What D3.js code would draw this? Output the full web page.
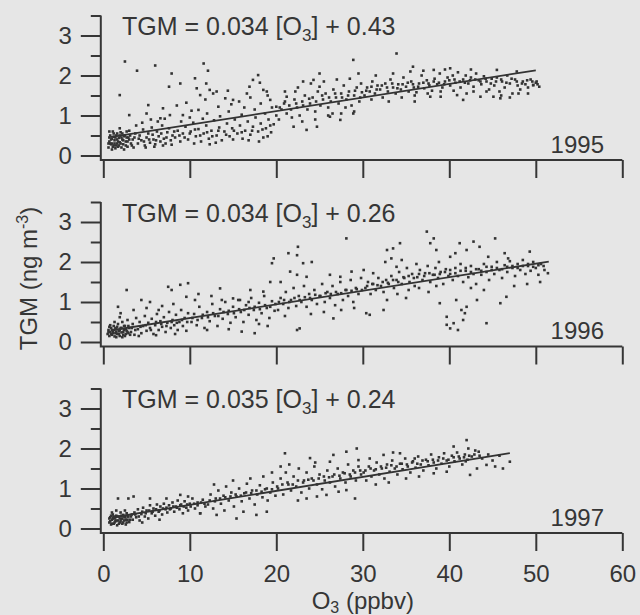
<!DOCTYPE html>
<html lang="en">
<head>
<meta charset="utf-8">
<script src="https://d3js.org/d3.v7.min.js"></script>
<title>TGM vs O3</title>
<style>
  body { margin: 0; background: #e6e6e6; }
  text { font-family: "Liberation Sans", Arial, Helvetica, sans-serif; fill: #363636; }
</style>
</head>
<body>
<script>

var years = ["1995", "1996", "1997"];
var fitSlope = [0.034, 0.034, 0.035];
var fitIntercept = [0.43, 0.26, 0.24];
var fitRange = [[0.8, 50], [1, 51.5], [1, 47]];
var xTicks = [0, 10, 20, 30, 40, 50, 60];
var yMajor = [0, 1, 2, 3];
var yMinor = [0.5, 1.5, 2.5, 3.5];

// [O3 ppbv, TGM ng m-3]
var pts1995 = [
  [0.6,0.2],[0.7,0.35],[0.8,0.5],[0.9,0.28],[1.0,0.15],[1.0,0.42],[1.1,0.6],[1.2,0.25],[1.3,0.38],[1.4,0.18],
  [1.5,0.5],[1.6,0.3],[1.7,0.22],[1.8,0.44],[1.9,0.33],[2.0,0.58],[2.1,0.2],[2.2,0.4],[2.3,0.28],[2.5,0.5],
  [2.6,0.35],[2.8,0.22],[2.9,0.45],[3.0,0.62],[3.2,0.3],[3.4,0.4],[3.5,0.2],[3.7,0.55],[0.8,0.3],[1.2,0.47],
  [1.6,0.4],[2.4,0.15],[2.7,0.6],[1.9,0.68],[0.7,0.6],
  [0.6,0.3],[0.7,0.45],[0.9,0.4],[1.0,0.3],[1.1,0.22],[1.2,0.55],[1.3,0.3],[1.4,0.45],[1.5,0.25],[1.6,0.55],
  [1.7,0.35],[1.8,0.25],[1.9,0.5],[2.0,0.3],[2.1,0.45],[2.2,0.55],[2.3,0.38],[2.4,0.48],[2.6,0.25],[2.7,0.45],
  [2.8,0.35],[3.0,0.4],[3.1,0.5],[3.3,0.25],[3.6,0.45],
  [4.0,0.3],[4.2,0.5],[4.4,0.38],[4.6,0.65],[4.8,0.25],[5.0,0.45],[5.2,0.55],[5.4,0.32],[5.6,0.7],[5.8,0.4],
  [6.0,0.28],[6.2,0.6],[6.4,0.48],[6.6,0.35],[6.8,0.75],[7.0,0.42],[7.2,0.3],[7.4,0.58],[7.6,0.68],[7.8,0.38],
  [8.0,0.5],[4.5,0.82],[5.5,0.9],[6.3,0.85],[7.1,0.92],[3.8,0.75],[4.9,0.2],[5.9,0.22],[6.9,0.25],[7.9,0.27],
  [4.1,0.42],[4.7,0.35],[5.3,0.4],[5.7,0.52],[6.1,0.38],[6.7,0.55],[7.3,0.45],[8.2,0.6],[8.8,0.5],[9.4,0.45],
  [10.0,0.55],[10.6,0.65],[11.2,0.5],[12.0,0.58],[12.6,0.48],[13.3,0.62],[14.2,0.52],[15.1,0.62],[16.0,0.58],[17.2,0.62],
  [18.4,0.65],[19.3,0.75],
  [8.3,0.45],[8.6,0.62],[8.9,0.35],[9.2,0.55],[9.5,0.72],[9.8,0.4],[10.1,0.6],[10.4,0.82],[10.7,0.48],[11.0,0.66],
  [11.3,0.35],[11.6,0.55],[11.9,0.75],[12.2,0.42],[12.5,0.62],[12.8,0.88],[13.1,0.5],[13.4,0.7],[13.7,0.38],[14.0,0.6],
  [14.3,0.8],[14.6,0.48],[14.9,0.68],[15.2,0.9],[15.5,0.55],[15.8,0.75],[16.1,0.42],[16.4,0.62],[16.7,0.85],[17.0,0.52],
  [17.3,0.72],[17.6,0.95],[17.9,0.6],[18.2,0.8],[18.5,0.45],[18.8,0.68],[19.1,0.9],[19.4,0.58],[19.7,0.78],[20.0,1.0],
  [9.0,0.85],[10.0,0.95],[11.5,0.92],[12.0,1.05],[13.5,0.98],[14.5,1.1],[16.0,1.02],[17.5,1.15],[18.7,1.05],[19.5,1.2],
  [13.0,0.32],[15.0,0.4],[16.8,0.38],[18.0,0.35],[19.0,0.48],[10.5,0.3],[12.3,0.28],
  [8.5,1.25],[9.6,1.32],[10.2,1.12],[11.8,1.4],[13.3,1.22],[14.8,1.28],[15.7,1.35],[16.3,1.2],[17.0,1.45],[18.2,1.3],
  [19.0,1.5],[12.7,1.55],[14.4,1.62],[16.9,1.72],[18.1,1.82],
  [2.5,2.35],[3.9,2.12],[6.0,2.25],[1.9,1.51],[11.6,2.3],[12.1,2.12],[7.9,2.05],[7.6,1.72],[8.9,1.8],[10.6,1.93],
  [10.8,1.68],[11.2,1.51],[11.9,1.8],[12.3,1.64],[13.1,1.6],[14.1,1.43],[15.0,1.39],[16.6,1.55],[17.3,1.89],[17.9,2.01],
  [18.5,1.64],[18.9,1.6],[5.2,1.26],[6.9,1.18],[7.7,1.01],[6.6,0.93],[11.0,1.14],[9.2,1.01],[3.0,1.01],[5.0,1.05],
  [20.3,0.9],[20.6,1.15],[20.9,1.3],[21.2,1.05],[21.5,1.25],[21.8,0.95],[22.1,1.4],[22.4,1.2],[22.7,1.0],[23.0,1.35],
  [23.3,1.5],[23.6,1.15],[23.9,1.3],[24.2,1.45],[24.5,1.1],[24.8,1.6],[25.1,1.25],[25.4,1.4],[25.7,1.55],[26.0,1.2],
  [26.3,1.35],[26.6,1.65],[26.9,1.45],[27.2,1.3],[27.5,1.55],[27.8,1.75],[28.1,1.4],[28.4,1.6],[28.7,1.25],[29.0,1.5],
  [29.3,1.7],[29.6,1.35],[29.9,1.58],[21.0,1.6],[22.5,1.7],[24.0,1.8],[25.5,1.85],[27.0,1.9],[28.5,1.92],[29.8,1.8],
  [23.0,0.85],[24.5,0.9],[26.0,1.0],[27.5,1.05],[29.0,1.1],[25.0,1.72],[26.5,1.05],[28.0,1.2],
  [20.4,1.2],[21.0,1.35],[21.7,1.15],[22.3,1.3],[23.1,1.25],[23.8,1.42],[24.6,1.35],[25.3,1.5],[26.1,1.45],[26.8,1.55],
  [27.6,1.45],[28.3,1.5],[29.1,1.62],[29.7,1.45],
  [25.0,2.05],[28.9,2.39],[33.9,2.55],[35.8,2.22],[29.5,2.05],[23.1,1.85],[24.3,1.89],[22.2,1.6],[21.2,1.47],[19.3,1.39],
  [20.0,1.22],[23.5,0.64],[24.7,0.72],[26.2,0.97],[27.4,0.89],[28.9,1.05],[22.0,0.72],
  [30.2,1.5],[30.5,1.7],[30.8,1.6],[31.1,1.85],[31.4,1.55],[31.7,1.75],[32.0,1.65],[32.3,1.45],[32.6,1.8],[32.9,1.6],
  [33.2,1.9],[33.5,1.7],[33.8,1.55],[34.1,1.78],[34.4,1.65],[34.7,1.95],[35.0,1.72],[35.3,1.6],[35.6,1.85],[35.9,1.7],
  [36.2,1.58],[36.5,1.8],[36.8,2.0],[37.1,1.68],[37.4,1.88],[37.7,1.75],[38.0,1.62],[38.3,1.92],[38.6,1.78],[38.9,2.05],
  [39.2,1.7],[39.5,1.85],[39.8,1.95],[40.1,1.75],[40.4,2.0],[40.7,1.82],[41.0,2.08],[41.3,1.7],[41.6,1.9],[41.9,2.0],
  [42.2,1.8],[42.5,1.95],[42.8,1.72],[43.1,2.05],[43.4,1.88],[43.7,1.78],[44.0,1.98],[44.3,1.85],[44.6,1.65],[44.9,1.92],
  [31.0,1.4],[33.0,1.35],[34.5,1.45],[36.0,1.5],[37.5,1.55],[39.0,1.6],[40.5,1.62],[42.0,1.55],[31.5,2.0],[33.5,2.05],
  [35.5,2.1],[37.0,2.12],[39.5,2.15],[42.5,2.15],
  [30.4,1.62],[31.0,1.72],[31.6,1.65],[32.2,1.75],[32.8,1.7],[33.4,1.8],[34.0,1.68],[34.6,1.78],[35.2,1.82],[35.8,1.78],
  [36.4,1.72],[37.0,1.82],[37.6,1.8],[38.2,1.85],[38.8,1.82],[39.4,1.78],[40.0,1.88],[40.6,1.9],[41.2,1.85],[41.8,1.82],
  [42.4,1.88],[43.0,1.9],[43.6,1.85],[44.2,1.92],[44.8,1.8],[45.4,1.85],[46.0,1.9],[46.6,1.82],[47.2,1.92],[47.8,1.85],
  [48.4,1.8],[49.0,1.88],[49.6,1.85],[50.2,1.78],
  [36.0,1.35],[41.6,1.39],[43.6,1.47],[45.1,1.47],[49.1,1.55],[45.5,2.14],[47.8,2.1],[40.1,2.18],[38.2,2.14],[37.8,1.47],
  [39.0,1.47],[40.9,1.51],[42.8,1.6],[44.3,1.6],[45.9,1.43],[49.7,1.76],[50.1,1.85],
  [45.2,1.75],[45.5,1.95],[45.8,1.6],[46.1,1.85],[46.4,1.7],[46.7,2.0],[47.0,1.8],[47.3,1.55],[47.6,1.9],[47.9,1.75],
  [48.2,1.65],[48.5,1.85],[48.8,1.78],[49.1,1.7],[49.4,1.9],[49.7,1.76],[50.0,1.82],[50.4,1.72],[46.0,1.5],[47.0,1.45],
  [48.0,1.55]
];

var pts1996 = [
  [0.5,0.2],[0.6,0.3],[0.7,0.15],[0.8,0.25],[0.9,0.35],[1.0,0.18],[1.1,0.28],[1.2,0.4],[1.3,0.14],[1.4,0.22],
  [1.5,0.32],[1.6,0.2],[1.7,0.45],[1.8,0.27],[1.9,0.15],[2.0,0.35],[2.1,0.24],[2.2,0.5],[2.3,0.18],[2.4,0.3],
  [2.5,0.4],[2.6,0.2],[2.7,0.28],[2.8,0.55],[2.9,0.22],[3.0,0.35],[0.8,0.42],[1.3,0.5],[1.5,0.12],[2.2,0.12],
  [1.7,0.88],[2.0,0.72],[2.7,1.3],[1.9,0.62],
  [0.6,0.25],[0.7,0.38],[0.9,0.2],[1.0,0.3],[1.1,0.22],[1.2,0.3],[1.4,0.35],[1.5,0.25],[1.6,0.38],[1.8,0.2],
  [1.9,0.3],[2.1,0.35],[2.3,0.25],[2.4,0.4],[2.5,0.15],[2.6,0.32],[2.8,0.25],[2.9,0.4],[3.1,0.18],[3.3,0.35],
  [3.2,0.25],[3.4,0.45],[3.6,0.18],[3.8,0.6],[4.0,0.32],[4.2,0.5],[4.4,0.22],[4.6,0.4],[4.8,0.65],[5.0,0.28],
  [5.2,0.48],[5.4,0.35],[5.6,0.58],[5.8,0.2],[6.0,0.42],[6.2,0.7],[6.4,0.3],[6.6,0.52],[6.8,0.38],[7.0,0.62],
  [7.2,0.25],[7.4,0.48],[7.6,0.75],[7.8,0.35],[8.0,0.55],[8.2,0.42],[8.4,0.68],[8.6,0.3],[8.8,0.5],[9.0,0.8],
  [9.2,0.4],[9.4,0.6],[9.6,0.28],[9.8,0.72],[4.4,1.05],[5.4,1.0],[6.4,0.8],[7.5,1.38],[7.9,1.3],[8.9,1.43],
  [9.8,1.47],[9.6,1.13],[5.0,0.85],[6.8,0.9],[3.5,0.8],[8.1,0.95],[4.1,0.15],[6.1,0.17],[8.3,0.2],
  [3.7,0.3],[4.3,0.38],[4.9,0.42],[5.5,0.3],[6.1,0.5],[6.7,0.45],[7.3,0.4],[7.9,0.5],[8.5,0.48],[9.1,0.55],
  [9.7,0.5],[10.3,0.6],[10.9,0.55],[11.5,0.68],[12.1,0.62],[12.7,0.72],[13.3,0.65],[13.9,0.75],[14.5,0.78],[15.1,0.72],
  [15.7,0.82],[16.3,0.8],[16.9,0.85],[17.5,0.88],[18.1,0.82],[18.7,0.92],[19.3,0.88],[19.9,0.95],
  [10.2,0.5],[10.5,0.7],[10.8,0.42],[11.1,0.88],[11.4,0.6],[11.7,0.35],[12.0,0.75],[12.3,0.52],[12.6,0.95],[12.9,0.65],
  [13.2,0.4],[13.5,0.82],[13.8,0.58],[14.1,1.0],[14.4,0.7],[14.7,0.48],[15.0,0.88],[15.3,0.62],[15.6,1.05],[15.9,0.75],
  [16.2,0.5],[16.5,0.92],[16.8,0.68],[17.1,1.1],[17.4,0.8],[17.7,0.55],[18.0,0.98],[18.3,0.72],[18.6,1.15],[18.9,0.85],
  [19.2,0.6],[19.5,1.02],[19.8,0.78],[10.6,1.05],[13.5,1.34],[13.7,1.05],[15.0,1.09],[15.8,1.05],[16.8,1.0],[18.5,1.26],
  [19.3,1.5],[19.7,2.09],[19.5,1.97],[16.0,0.26],[17.5,0.22],[12.0,0.3],[14.5,0.32],[11.0,1.2],[12.5,1.15],[17.0,1.3],
  [18.0,0.45],[19.0,0.4],
  [20.2,0.8],[20.5,1.1],[20.8,0.95],[21.1,1.25],[21.4,0.85],[21.7,1.05],[22.0,1.35],[22.3,0.9],[22.6,1.15],[22.9,1.0],
  [23.2,1.4],[23.5,0.88],[23.8,1.2],[24.1,1.05],[24.4,1.3],[24.7,0.95],[25.0,1.15],[25.3,1.45],[25.6,1.0],[25.9,1.25],
  [26.2,1.1],[26.5,1.4],[26.8,0.92],[27.1,1.2],[27.4,1.5],[27.7,1.05],[28.0,1.3],[28.3,1.15],[28.6,1.55],[28.9,1.0],
  [29.2,1.35],[29.5,1.2],[29.8,1.6],[21.4,2.22],[22.5,2.38],[22.4,2.17],[23.1,1.97],[24.1,2.0],[21.6,1.76],[22.4,1.68],
  [23.5,1.63],[22.4,0.3],[22.7,0.34],[26.2,1.68],[27.4,1.63],[28.1,2.59],[28.7,1.76],[26.6,0.59],[24.0,0.7],[25.5,0.75],
  [27.5,0.8],[29.0,0.85],[20.5,1.5],[21.0,0.65],
  [20.3,1.0],[20.9,1.05],[21.5,1.0],[22.1,1.1],[22.7,1.05],[23.3,1.12],[23.9,1.1],[24.5,1.18],[25.1,1.15],[25.7,1.22],
  [26.3,1.2],[26.9,1.25],[27.5,1.22],[28.1,1.3],[28.7,1.28],[29.3,1.32],[29.9,1.3],
  [30.1,1.8],[30.4,0.72],[30.8,0.68],[31.2,1.72],[32.4,0.8],[32.8,1.05],[32.6,2.0],[33.3,2.09],[33.5,2.34],[34.3,2.47],
  [34.5,2.05],[32.8,2.3],[33.9,1.88],
  [30.3,1.35],[30.6,1.5],[30.9,1.2],[31.2,1.45],[31.5,1.3],[31.8,1.6],[32.1,1.4],[32.4,1.25],[32.7,1.55],[33.0,1.45],
  [33.3,1.65],[33.6,1.35],[33.9,1.55],[34.2,1.75],[34.5,1.45],[34.8,1.6],[35.1,1.85],[35.4,1.5],[35.7,1.7],[36.0,1.4],
  [36.3,1.62],[36.6,1.8],[36.9,1.55],[37.2,1.72],[37.5,1.9],[37.8,1.5],[38.1,1.68],[38.4,1.85],[38.7,1.6],[39.0,1.75],
  [39.3,1.45],[39.6,1.82],[39.9,1.65],[35.3,1.3],[36.5,1.35],[37.6,1.25],[38.5,1.4],[36.2,1.95],[38.8,2.0],[35.0,1.1],
  [34.0,1.2],
  [30.5,1.4],[31.1,1.45],[31.7,1.42],[32.3,1.5],[32.9,1.48],[33.5,1.55],[34.1,1.5],[34.7,1.62],[35.3,1.65],[35.9,1.6],
  [36.5,1.7],[37.1,1.65],[37.7,1.72],[38.3,1.68],[38.9,1.7],[39.5,1.75],
  [37.4,2.76],[37.8,2.47],[38.2,2.59],[38.5,2.3],[39.7,0.43],[40.1,0.34],[40.5,0.47],[41.0,0.3],[41.6,0.55],[41.8,0.72],
  [42.0,0.88],[41.4,0.8],[40.8,1.05],[39.7,0.63],[38.9,0.97],[43.2,1.05],[44.3,0.47],[45.9,0.97],[46.6,1.13],
  [40.1,1.7],[40.4,1.55],[40.7,1.85],[41.0,1.65],[41.3,1.95],[41.6,1.5],[41.9,1.78],[42.2,1.62],[42.5,1.9],[42.8,1.7],
  [43.1,1.45],[43.4,1.82],[43.7,1.68],[44.0,1.95],[44.3,1.75],[44.6,1.55],[44.9,1.88],[45.2,1.7],[45.5,2.0],[45.8,1.8],
  [46.1,1.6],[46.4,1.92],[46.7,1.75],[47.0,2.02],[47.3,1.85],[47.6,1.65],[47.9,1.95],[48.2,1.8],[48.5,2.05],[48.8,1.7],
  [49.1,1.9],[49.4,1.78],[49.7,2.0],[50.0,1.85],[50.3,1.68],[50.6,1.95],[51.0,1.8],[51.4,1.72],[40.1,2.13],[40.7,2.22],
  [41.2,2.47],[42.0,2.3],[42.8,2.51],[43.5,2.38],[45.3,2.59],[44.5,2.13],[46.4,2.22],[46.8,2.09],[49.3,2.26],[42.5,1.35],
  [44.0,1.3],[47.5,1.4],[49.0,1.45],[50.5,1.5],
  [40.1,1.8],[40.7,1.72],[41.3,1.78],[41.9,1.85],[42.5,1.75],[43.1,1.82],[43.7,1.78],[44.3,1.88],[44.9,1.8],[45.5,1.85],
  [46.1,1.82],[46.7,1.88],[47.3,1.9],[47.9,1.85],[48.5,1.9],[49.1,1.95],[49.7,1.88],[50.3,1.92],[50.9,1.9]
];

var pts1997 = [
  [0.7,0.15],[0.8,0.28],[0.9,0.1],[1.0,0.22],[1.1,0.35],[1.2,0.12],[1.3,0.25],[1.4,0.18],[1.5,0.32],[1.6,0.08],
  [1.7,0.2],[1.8,0.3],[1.9,0.15],[2.0,0.4],[2.1,0.24],[2.2,0.12],[2.3,0.34],[2.4,0.2],[2.5,0.28],[2.6,0.1],
  [2.7,0.38],[2.8,0.22],[2.9,0.3],[3.0,0.16],[1.0,0.4],[1.5,0.45],[2.5,0.45],[1.7,0.75],[2.9,0.75],[3.5,0.8],
  [0.7,0.25],[0.8,0.18],[0.9,0.32],[1.0,0.12],[1.1,0.25],[1.2,0.3],[1.3,0.15],[1.4,0.28],[1.5,0.2],[1.6,0.3],
  [1.8,0.12],[1.9,0.25],[2.0,0.18],[2.1,0.32],[2.2,0.25],[2.3,0.15],[2.4,0.3],[2.6,0.22],[2.7,0.15],[2.8,0.3],
  [3.1,0.22],[3.3,0.35],
  [3.2,0.3],[3.4,0.22],[3.6,0.4],[3.8,0.28],[4.0,0.48],[4.2,0.2],[4.4,0.36],[4.6,0.52],[4.8,0.3],[5.0,0.45],
  [5.2,0.25],[5.4,0.58],[5.6,0.38],[5.8,0.5],[6.0,0.32],[6.2,0.6],[6.4,0.42],[6.6,0.55],[6.8,0.35],[7.0,0.62],
  [7.2,0.48],[7.4,0.4],[7.6,0.58],[7.8,0.5],[8.0,0.65],[8.2,0.42],[8.4,0.55],[8.6,0.7],[8.8,0.48],[9.0,0.6],
  [9.2,0.38],[9.4,0.68],[9.6,0.52],[9.8,0.45],[10.0,0.62],[10.3,0.75],[10.6,0.5],[10.9,0.65],[11.2,0.38],[11.5,0.72],
  [11.8,0.55],[5.4,0.75],[7.3,0.75],[8.9,0.84],[9.8,0.8],[6.5,0.22],[4.5,0.15],
  [3.7,0.35],[4.1,0.3],[4.5,0.42],[4.9,0.38],[5.3,0.45],[5.7,0.42],[6.1,0.48],[6.5,0.45],[6.9,0.5],[7.3,0.52],
  [7.7,0.48],[8.1,0.55],[8.5,0.52],[8.9,0.58],[9.3,0.55],[9.7,0.6],[10.1,0.55],[10.5,0.62],[10.9,0.58],[11.3,0.65],
  [11.7,0.62],
  [12.1,0.6],[12.4,0.85],[12.7,0.5],[13.0,0.75],[13.3,0.95],[13.6,0.62],[13.9,0.82],[14.2,1.05],[14.5,0.7],[14.8,0.9],
  [15.1,0.55],[15.4,0.8],[15.7,1.0],[16.0,0.68],[16.3,0.88],[16.6,1.12],[16.9,0.75],[17.2,0.95],[17.5,0.6],[17.8,0.85],
  [18.1,1.08],[18.4,0.78],[18.7,0.98],[19.0,0.7],[19.3,0.9],[19.6,1.15],[19.9,0.82],[11.2,0.38],[13.1,0.34],[15.4,0.25],
  [16.2,0.42],[17.7,0.34],[18.9,0.42],[14.0,0.45],[12.8,1.1],[15.0,1.2],[17.0,1.25],[18.5,1.3],[19.5,1.4],
  [12.3,0.7],[12.9,0.68],[13.5,0.75],[14.1,0.78],[14.7,0.8],[15.3,0.85],[15.9,0.82],[16.5,0.9],[17.1,0.88],[17.7,0.95],
  [18.3,0.92],[18.9,1.0],[19.5,0.98],[20.1,1.05],[20.7,1.1],[21.3,1.15],[21.9,1.1],[22.5,1.2],[23.1,1.15],[23.7,1.22],
  [24.3,1.2],[24.9,1.25],[25.5,1.3],[26.1,1.28],[26.7,1.35],[27.3,1.32],[27.9,1.38],[28.5,1.35],[29.1,1.4],[29.7,1.45],
  [20.2,1.0],[20.5,1.25],[20.8,0.85],[21.1,1.4],[21.4,1.1],[21.7,0.95],[22.0,1.3],[22.3,1.05],[22.6,1.5],[22.9,0.9],
  [23.2,1.2],[23.5,1.4],[23.8,1.0],[24.1,1.25],[24.4,1.55],[24.7,1.1],[25.0,1.35],[25.3,0.98],[25.6,1.2],[25.9,1.45],
  [26.2,1.15],[26.5,1.3],[26.8,1.05],[27.1,1.5],[27.4,1.25],[27.7,1.4],[28.0,1.15],[28.3,1.6],[28.6,1.3],[28.9,1.45],
  [29.2,1.2],[29.5,1.55],[29.8,1.35],[21.0,1.88],[23.9,1.76],[26.2,1.67],[26.6,1.84],[28.1,1.92],[29.3,2.0],[29.5,1.71],
  [23.5,0.75],[24.7,0.8],[25.8,0.84],[27.2,0.92],[29.1,0.75],[28.1,0.96],[21.5,1.6],[22.5,0.7],[20.5,1.55],[24.5,1.65],
  [30.1,1.4],[30.4,1.2],[30.7,1.55],[31.0,1.3],[31.3,1.45],[31.6,1.65],[31.9,1.35],[32.2,1.5],[32.5,1.25],[32.8,1.6],
  [33.1,1.42],[33.4,1.7],[33.7,1.5],[34.0,1.35],[34.3,1.62],[34.6,1.48],[34.9,1.75],[35.2,1.55],[35.5,1.4],[35.8,1.68],
  [36.1,1.52],[36.4,1.8],[36.7,1.6],[37.0,1.45],[37.3,1.72],[37.6,1.58],[37.9,1.85],[38.2,1.65],[38.5,1.5],[38.8,1.78],
  [39.1,1.62],[39.4,1.88],[39.7,1.7],[40.0,1.55],[40.3,1.82],[40.6,1.68],[40.9,1.9],[41.2,1.75],[41.5,1.6],[41.8,1.85],
  [42.1,1.72],[32.4,1.84],[34.3,1.88],[36.0,1.75],[40.5,2.05],[42.0,2.21],[42.2,2.0],[43.4,1.92],[42.4,1.34],[43.2,1.5],
  [44.3,1.59],[45.3,1.55],[46.2,1.5],[47.0,1.67],[38.2,1.38],[39.7,1.42],[31.5,1.1],[33.0,1.15],[35.0,1.25],[36.5,1.3],
  [30.8,1.75],[33.5,1.9],[42.6,1.8],[43.0,1.95],[43.8,1.75],[44.5,1.85],[45.0,1.7],[45.8,1.82],[41.9,1.68],
  [30.3,1.45],[30.9,1.5],[31.5,1.48],[32.1,1.55],[32.7,1.52],[33.3,1.58],[33.9,1.55],[34.5,1.62],[35.1,1.6],[35.7,1.65],
  [36.3,1.62],[36.9,1.7],[37.5,1.68],[38.1,1.72],[38.7,1.7],[39.3,1.75],[39.9,1.72],[40.5,1.78],[41.1,1.8],[41.7,1.78],
  [42.3,1.82],[42.9,1.85],[43.5,1.82]
];

var panels = [pts1995, pts1996, pts1997];

var width = 640, height = 615;
var panelBottom = [155.5, 342, 528.5];   // pixel row of TGM = 0 in each panel
var panelH = 140;                         // 0 .. 3.5 ng m-3
var ink = "#363636";

var svg = d3.select("body")
  .append("svg")
    .attr("width", width)
    .attr("height", height);

svg.append("rect")
  .attr("width", width)
  .attr("height", height)
  .attr("fill", "#e6e6e6");

var x = d3.scaleLinear()
  .domain([0, 60])
  .range([103.3, 622.3]);

panels.forEach(function(data, i) {

  var y = d3.scaleLinear()
    .domain([0, 3.5])
    .range([panelBottom[i], panelBottom[i] - panelH]);

  var axisX = x(0) - 2.5,
      axisY = y(0) + 4.5;

  var g = svg.append("g");

  // points
  g.selectAll(".dot")
    .data(data)
    .enter()
    .append("rect")
      .attr("class", "dot")
      .attr("x", function(d) { return x(d[0]) - 1.3; })
      .attr("y", function(d) { return y(d[1]) - 1.3; })
      .attr("width", 2.6)
      .attr("height", 2.6)
      .attr("fill", "#333");

  // fitted line
  g.append("line")
    .attr("x1", x(fitRange[i][0]))
    .attr("y1", y(fitSlope[i] * fitRange[i][0] + fitIntercept[i]))
    .attr("x2", x(fitRange[i][1]))
    .attr("y2", y(fitSlope[i] * fitRange[i][1] + fitIntercept[i]))
    .attr("stroke", "#333")
    .attr("stroke-width", 1.8);

  // y axis, major + minor ticks
  var yMaj = g.append("g")
    .attr("transform", "translate(" + axisX + ",0)")
    .call(d3.axisLeft(y).tickValues(yMajor).tickSize(20).tickPadding(9).tickFormat(d3.format("d")));
  var yMin = g.append("g")
    .attr("transform", "translate(" + axisX + ",0)")
    .call(d3.axisLeft(y).tickValues(yMinor).tickSize(10).tickFormat(""));

  // x axis
  var xAx = g.append("g")
    .attr("transform", "translate(0," + axisY + ")")
    .call(d3.axisBottom(x).tickValues(xTicks).tickSize(18).tickPadding(14)
      .tickFormat(i == 2 ? d3.format("d") : ""));

  [yMaj, yMin, xAx].forEach(function(a) {
    a.select(".domain").remove();
    a.selectAll("line").attr("stroke", ink).attr("stroke-width", 2);
    a.selectAll("text").attr("font-size", 24).attr("fill", ink)
      .attr("font-family", "'Liberation Sans', Arial, sans-serif");
  });

  g.append("path")
    .attr("d", "M" + axisX + "," + y(3.5) + "V" + axisY + "H" + x(60))
    .attr("fill", "none")
    .attr("stroke", ink)
    .attr("stroke-width", 2);

  // equation
  var eq = g.append("text")
    .attr("x", 122)
    .attr("y", y(3) - 0.5)
    .attr("font-size", 25);
  eq.append("tspan").text("TGM = " + fitSlope[i] + " [O");
  eq.append("tspan").attr("font-size", 17).attr("dy", 6).text("3");
  eq.append("tspan").attr("dy", -6).text("] + " + fitIntercept[i]);

  // year
  g.append("text")
    .attr("x", 604)
    .attr("y", y(0) - 3)
    .attr("text-anchor", "end")
    .attr("font-size", 24)
    .text(years[i]);
});

// axis titles
var xt = svg.append("text")
  .attr("x", x(30))
  .attr("y", 609)
  .attr("text-anchor", "middle")
  .attr("font-size", 24);
xt.append("tspan").text("O");
xt.append("tspan").attr("font-size", 16).attr("dy", 4).text("3");
xt.append("tspan").attr("dy", -4).text(" (ppbv)");

var yt = svg.append("text")
  .attr("transform", "translate(37,278.5) rotate(-90)")
  .attr("text-anchor", "middle")
  .attr("font-size", 24);
yt.append("tspan").text("TGM (ng m");
yt.append("tspan").attr("font-size", 16).attr("dy", -9).text("-3");
yt.append("tspan").attr("dy", 9).text(")");

</script>
</body>
</html>
